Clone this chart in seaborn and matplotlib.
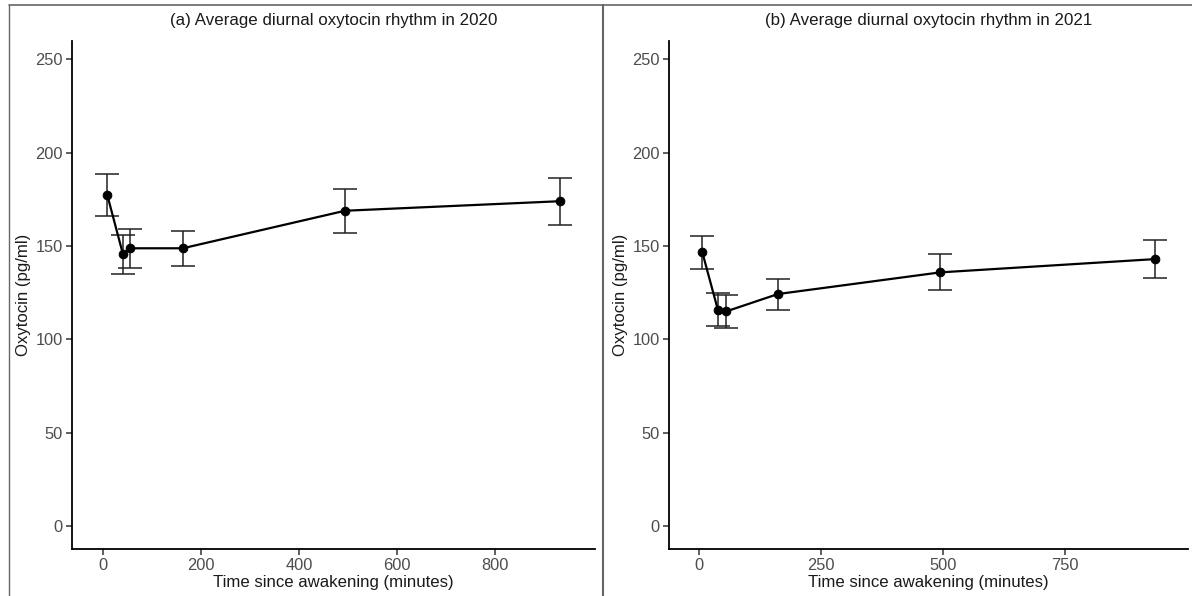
import matplotlib
matplotlib.use("Agg")
import matplotlib.pyplot as plt
import seaborn as sns
import pandas as pd
import numpy as np
from matplotlib.lines import Line2D

# ---- data ----
time_2020 = [9, 41, 56, 163, 494, 932]
mean_2020 = [177.3, 145.6, 148.8, 148.8, 168.9, 174.0]
lower_2020 = [166.2, 135.0, 138.2, 139.5, 157.0, 161.1]
upper_2020 = [188.4, 155.9, 159.1, 158.2, 180.5, 186.6]

time_2021 = [7, 39, 56, 162, 495, 935]
mean_2021 = [146.6, 115.7, 115.0, 124.3, 135.9, 143.0]
lower_2021 = [137.9, 107.0, 106.1, 115.9, 126.3, 133.0]
upper_2021 = [155.5, 125.0, 123.8, 132.3, 145.6, 153.1]

titles = ["(a) Average diurnal oxytocin rhythm in 2020",
          "(b) Average diurnal oxytocin rhythm in 2021"]
xticks_a = [0, 200, 400, 600, 800]
xticks_b = [0, 250, 500, 750]
yticks = [0, 50, 100, 150, 200, 250]
xlabel = "Time since awakening (minutes)"
ylabel = "Oxytocin (pg/ml)"

sns.set_theme(style="white")
plt.rcParams["font.family"] = ["Liberation Sans", "DejaVu Sans"]

W, H = 1192, 596
fig = plt.figure(figsize=(W / 100, H / 100), dpi=100)
fig.patch.set_facecolor("white")

ax_a = fig.add_axes([72 / W, 1 - 549.3 / H, (595 - 72) / W, (549.3 - 41) / H])
ax_b = fig.add_axes([668.7 / W, 1 - 549.3 / H, (1188 - 668.7) / W, (549.3 - 41) / H])

panels = [
    (ax_a, time_2020, mean_2020, lower_2020, upper_2020, xticks_a, (-63, 1004), titles[0]),
    (ax_b, time_2021, mean_2021, lower_2021, upper_2021, xticks_b, (-62, 1003), titles[1]),
]

for ax, t, m, lo, up, xt, xl, title in panels:
    df = pd.DataFrame({"time": t, "oxy": m})
    m_arr = np.array(m)
    yerr = np.vstack([m_arr - np.array(lo), np.array(up) - m_arr])
    ax.errorbar(t, m, yerr=yerr, fmt="none", ecolor="#222222",
                elinewidth=1.1, capsize=8.9, capthick=1.1, zorder=2)
    sns.lineplot(data=df, x="time", y="oxy", ax=ax, color="black",
                 linewidth=1.6, marker="o", markersize=6.2,
                 markeredgecolor="black", markerfacecolor="black",
                 errorbar=None, zorder=3)
    ax.set_xlim(*xl)
    ax.set_ylim(-12.4, 259.8)
    ax.set_xticks(xt)
    ax.set_yticks(yticks)
    ax.set_xticklabels([str(v) for v in xt])
    ax.set_yticklabels([str(v) for v in yticks])
    for s in ["top", "right"]:
        ax.spines[s].set_visible(False)
    for s in ["left", "bottom"]:
        ax.spines[s].set_color("black")
        ax.spines[s].set_linewidth(1.3)
    ax.tick_params(axis="both", direction="out", length=4, width=1.1,
                   color="#333333", labelcolor="#4d4d4d", labelsize=11.8,
                   pad=2.5, bottom=True, left=True)
    ax.set_xlabel(xlabel, fontsize=12.1, color="#1a1a1a", labelpad=1.5)
    ax.set_ylabel(ylabel, fontsize=12.1, color="#1a1a1a", labelpad=3)
    ax.set_title(title, fontsize=12.2, color="#1a1a1a", pad=11.5)
    ax.grid(False)
    ax.set_facecolor("white")

# frame lines of the screenshot
border = "#666666"
fig.add_artist(Line2D([9 / W, 1.0], [1 - 5 / H, 1 - 5 / H], color=border, lw=1.2,
                      transform=fig.transFigure))
fig.add_artist(Line2D([9 / W, 9 / W], [0, 1 - 5 / H], color=border, lw=1.0,
                      transform=fig.transFigure))
fig.add_artist(Line2D([602.7 / W, 602.7 / W], [0, 1 - 5 / H], color=border, lw=1.5,
                      transform=fig.transFigure))

fig.savefig("out.png", dpi=100, facecolor="white")
